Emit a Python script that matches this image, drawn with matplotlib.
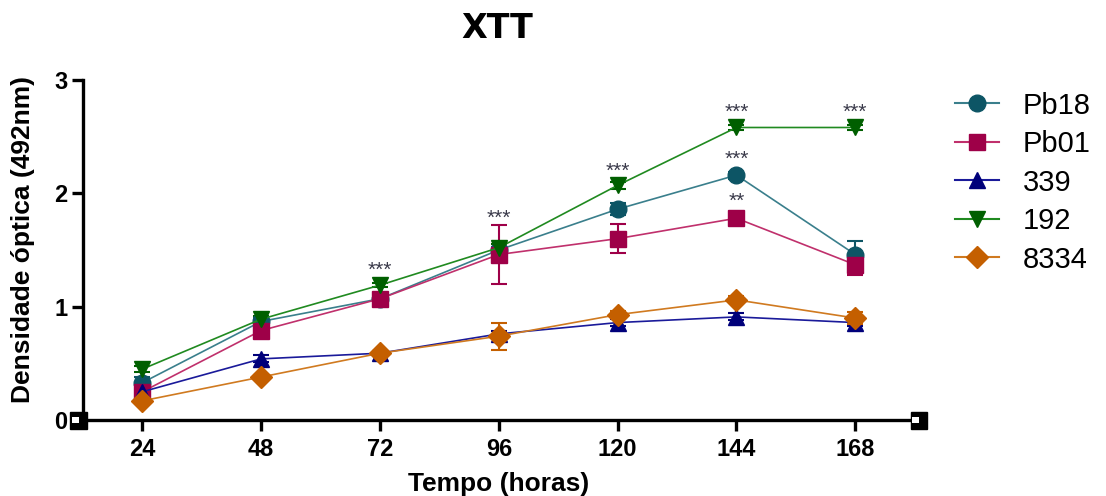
import matplotlib
matplotlib.use('Agg')
import matplotlib.pyplot as plt
from matplotlib.patches import Rectangle
from matplotlib.lines import Line2D

plt.rcParams['font.family'] = ['Liberation Sans', 'DejaVu Sans']

horas = [24, 48, 72, 96, 120, 144, 168]

series = ['Pb18', 'Pb01', '339', '192', '8334']
pb18 = [0.33, 0.87, 1.07, 1.50, 1.86, 2.16, 1.46]
pb01 = [0.25, 0.79, 1.07, 1.46, 1.60, 1.78, 1.37]
s339 = [0.25, 0.54, 0.59, 0.76, 0.86, 0.91, 0.86]
s192 = [0.45, 0.89, 1.19, 1.52, 2.07, 2.58, 2.58]
s8334 = [0.17, 0.38, 0.59, 0.74, 0.93, 1.06, 0.90]

err_pb18 = [0.05, 0.03, 0.02, 0.03, 0.05, 0.03, 0.12]
err_pb01 = [0.04, 0.07, 0.03, 0.26, 0.13, 0.03, 0.09]
err_339 = [0.02, 0.03, 0.02, 0.03, 0.03, 0.03, 0.03]
err_192 = [0.03, 0.03, 0.02, 0.03, 0.03, 0.02, 0.02]
err_8334 = [0.02, 0.02, 0.02, 0.12, 0.03, 0.03, 0.05]

# significance marks: (hour, y position, text)
stars_x = [72, 96, 120, 144, 144, 144, 168]
stars_y = [1.32, 1.78, 2.19, 2.71, 2.30, 1.93, 2.71]
stars_txt = ['***', '***', '***', '***', '***', '**', '***']

values = [pb18, pb01, s339, s192, s8334]
errors = [err_pb18, err_pb01, err_339, err_192, err_8334]
markers = ['o', 's', '^', 'v', 'D']
mcolors = ['#0d5565', '#9e0048', '#00007a', '#005f00', '#c45f00']
lcolors = ['#3a7f8c', '#c0306c', '#1a1a9a', '#208a20', '#d07a20']
msizes = [12, 12, 12, 12, 11]

fig = plt.figure(figsize=(11.06, 4.96), dpi=100)
ax = fig.add_axes([0.075, 0.153, 0.752, 0.686])

handles = []
for name, y, e, m, mc, lc, ms in zip(series, values, errors, markers, mcolors, lcolors, msizes):
    ax.errorbar(horas, y, yerr=e, color=lc, ecolor=mc, elinewidth=1.5, capsize=6,
                capthick=1.5, linewidth=1.2, marker=m, markersize=ms,
                markerfacecolor=mc, markeredgecolor=mc)
    handles.append(Line2D([], [], color=lc, linewidth=1.5, marker=m, markersize=ms,
                          markerfacecolor=mc, markeredgecolor=mc, label=name))

for x, y, t in zip(stars_x, stars_y, stars_txt):
    ax.text(x, y, t, ha='center', va='center', fontsize=15, color='#3a3a4a')

ax.set_xlim(12, 180)
ax.set_ylim(0, 3)
ax.set_xticks(horas)
ax.set_yticks([0, 1, 2, 3])
for s in ['top', 'right']:
    ax.spines[s].set_visible(False)
for s in ['left', 'bottom']:
    ax.spines[s].set_linewidth(2.4)
ax.tick_params(axis='both', width=2.4, length=8, direction='out')
ax.tick_params(axis='x', labelsize=17, pad=5)
ax.tick_params(axis='y', labelsize=17, pad=3)
for lbl in ax.get_xticklabels() + ax.get_yticklabels():
    lbl.set_fontweight('bold')

# axis break boxes (GraphPad style)
for xa in [-0.015, 0.995]:
    ax.add_patch(Rectangle((xa, -0.025), 0.02, 0.05, transform=ax.transAxes,
                           facecolor='black', edgecolor='black', clip_on=False, zorder=5))
    ax.add_patch(Rectangle((xa + 0.002, -0.008), 0.008, 0.016, transform=ax.transAxes,
                           facecolor='white', edgecolor='none', clip_on=False, zorder=6))

ax.set_xlabel('Tempo (horas)', fontsize=19, fontweight='bold', labelpad=8)
ax.set_ylabel('Densidade óptica (492nm)', fontsize=19, fontweight='bold')
ax.yaxis.set_label_coords(-0.058, 0.53)
fig.text(0.45, 1 - 28 / 496, 'XTT', ha='center', va='center', fontsize=24,
         fontweight='bold', family='DejaVu Sans')

ax.legend(handles=handles, loc='upper left', bbox_to_anchor=(1.035, 1.0), frameon=False,
          fontsize=21, handlelength=1.5, handletextpad=0.8, labelspacing=0.36, borderaxespad=0)

fig.savefig('out.png', dpi=100)
